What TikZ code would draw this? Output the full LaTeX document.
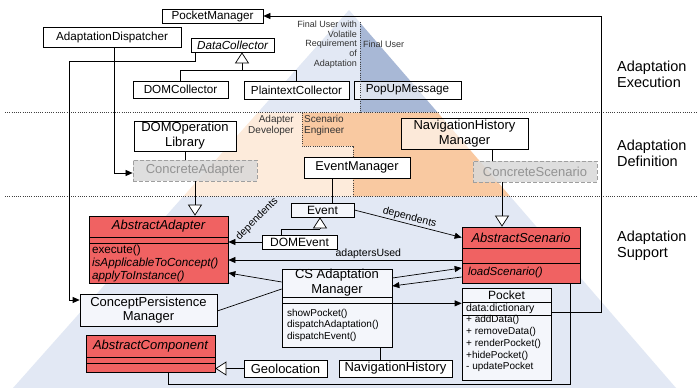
\documentclass[tikz,border=0pt]{standalone}
\usepackage{fontspec}
\setmainfont{Liberation Sans}
\usetikzlibrary{arrows.meta,shadows,calc}
\definecolor{lblue}{HTML}{E2E8F4}
\definecolor{dblue}{HTML}{A8B8D6}
\definecolor{peach}{HTML}{FDEBDB}
\definecolor{orng}{HTML}{F9C9A1}
\definecolor{redf}{HTML}{F06262}
\definecolor{boxb}{HTML}{F4F6FB}
\definecolor{cgray}{HTML}{D9D9D9}
\newcommand\fsz[2]{\fontsize{#1}{#2}\selectfont}
\tikzset{
  conn/.style={line width=0.7pt, draw=black},
  arrw/.style={conn, -{Triangle[length=7pt,width=6pt]}},
  inher/.style={conn, -{Triangle[length=11pt,width=14pt,fill=white]}},
  divd/.style={line width=0.7pt, draw=black!75, dash pattern=on 1pt off 1.2pt},
  bx/.style={draw, line width=0.7pt, inner sep=0pt, align=center, fill=white},
  shd/.style={drop shadow={shadow xshift=1.3pt,shadow yshift=-1.3pt,fill=black,opacity=0.3}},
  redbox/.style={bx, fill=redf},
  conc/.style={draw=gray!75, line width=0.8pt, dash pattern=on 4pt off 2pt, fill=cgray, fill opacity=0.85, text opacity=1, text=gray!85, inner sep=0pt, font=\fsz{13}{15}},
  lbl/.style={font=\fsz{10.5}{12}, inner sep=1pt},
  ptxt/.style={font=\fsz{9}{9.8}, text=black!80, inner sep=0pt},
  ptxtb/.style={font=\fsz{10}{11}, text=black!80, inner sep=0pt},
  reglbl/.style={font=\fsz{14.5}{16}, anchor=west, align=left, inner sep=0pt},
}
\begin{document}
\begin{tikzpicture}[x=1pt,y=-1pt]
\useasboundingbox (0,0) rectangle (697,388);
\fill[white] (0,0) rectangle (697,388);
% background pyramid
\fill[lblue] (349,10) -- (360,22.7) -- (360,112.5) -- (257.9,112.5) -- cycle;
\fill[dblue] (360,22.7) -- (437.7,112.5) -- (360,112.5) -- cycle;
\fill[peach] (257.9,112.5) -- (302,112.5) -- (302,146) -- (353,146) -- (353,196.5) -- (183.2,196.5) -- cycle;
\fill[orng] (302,112.5) -- (437.7,112.5) -- (510.3,196.5) -- (353,196.5) -- (353,146) -- (302,146) -- cycle;
\fill[lblue] (183.2,196.5) -- (510.3,196.5) -- (676,388) -- (13,388) -- cycle;
% dividers
\draw[divd] (5,112.5) -- (697,112.5);
\draw[divd] (5,196.5) -- (697,196.5);
\draw[divd] (302,112.5) -- (302,146) -- (353,146) -- (353,196.5);

% labels
\node[ptxt, anchor=east, align=right] (fuv) at (357,44.5) {Final User with\\Volatile\\Requirement\\of\\Adaptation};
\node[ptxt, anchor=west] (fu) at (363,44) {Final User};
\node[ptxtb, anchor=east, align=right] (adev) at (294,125.5) {Adapter\\Developer};
\node[ptxtb, anchor=west, align=left] (seng) at (304,125.5) {Scenario\\Engineer};
\node[reglbl] (rexe) at (617,74.5) {Adaptation\\Execution};
\node[reglbl] (rdef) at (617,153.5) {Adaptation\\Definition};
\node[reglbl] (rsup) at (617,246) {Adaptation\\Support};

% top nodes
\node[bx, shd, minimum width=101pt, minimum height=14pt, font=\fsz{11.7}{13}] (pm) at (212.5,16) {PocketManager};
\node[bx, shd, minimum width=138pt, minimum height=20pt, font=\fsz{11.7}{13}] (ad) at (112,37) {AdaptationDispatcher};
\node[bx, shd, minimum width=83pt, minimum height=14pt, font=\fsz{11.7}{13}\itshape] (dc) at (232.5,45) {DataCollector};
\node[bx, shd, minimum width=95pt, minimum height=17pt, font=\fsz{11.7}{13}] (domc) at (180.5,89.5) {DOMCollector};
\node[bx, shd, minimum width=105pt, minimum height=18pt, font=\fsz{11.7}{13}] (ptc) at (296.5,90) {PlaintextCollector};
\node[bx, fill opacity=0.6, text opacity=1, minimum width=107pt, minimum height=18pt, font=\fsz{11.7}{13}] (pum) at (407.5,90) {PopUpMessage};
\draw[divd] (360,22) -- (360,112.5);

% definition nodes
\node[bx, shd, minimum width=102pt, minimum height=30pt, font=\fsz{13}{15}] (dol) at (185,136) {DOMOperation\\Library};
\node[conc, minimum width=124pt, minimum height=21pt] (ca) at (195,170.5) {ConcreteAdapter};
\node[bx, shd, minimum width=106pt, minimum height=21pt, font=\fsz{12.8}{14}] (em) at (357,167.5) {EventManager};
\node[bx, fill opacity=0.6, text opacity=1, minimum width=127pt, minimum height=31pt, font=\fsz{13}{15}] (nhm) at (464.5,133.5) {NavigationHistory\\Manager};
\node[conc, minimum width=124pt, minimum height=21pt] (cs) at (535,171.5) {ConcreteScenario};

% support nodes
\node[bx, shd, fill=boxb, minimum width=63pt, minimum height=14pt, font=\fsz{12}{13}] (ev) at (322.5,210) {Event};
\node[bx, shd, minimum width=75pt, minimum height=14pt, font=\fsz{12}{13}] (dome) at (299.5,242) {DOMEvent};
\node[bx, shd, fill=boxb, minimum width=137pt, minimum height=32pt, font=\fsz{13}{14.5}] (cpm) at (148.5,310) {ConceptPersistence\\Manager};
\node[bx, shd, minimum width=83pt, minimum height=17pt, font=\fsz{13}{14}] (geo) at (285.5,368.5) {Geolocation};
\node[bx, shd, minimum width=113pt, minimum height=17pt, font=\fsz{13}{14}] (nh) at (395.5,368.5) {NavigationHistory};

% AbstractAdapter
\node[redbox, minimum width=139pt, minimum height=21pt, font=\fsz{13}{14}\itshape] (aan) at (158.5,226.5) {AbstractAdapter};
\node[redbox, minimum width=139pt, minimum height=6pt] (aae) at (158.5,240) {};
\node[redbox, minimum height=40pt, text width=133pt, inner xsep=3pt, align=left, font=\fsz{11.7}{13}] (aam) at (158.5,263) {execute()\\\textit{isApplicableToConcept()}\\\textit{applyToInstance()}};

% AbstractScenario
\node[redbox, minimum width=118pt, minimum height=21pt, font=\fsz{13}{14}\itshape] (asn) at (521,237.5) {AbstractScenario};
\node[redbox, minimum width=118pt, minimum height=15pt] (ase) at (521,255.5) {};
\node[redbox, minimum height=20pt, text width=106pt, inner xsep=6pt, align=left, font=\fsz{11.5}{13}\itshape] (asm) at (521,273) {loadScenario()};

% AbstractComponent
\node[redbox, minimum width=129pt, minimum height=22pt, font=\fsz{13}{14}\itshape] (acn) at (150.5,346) {AbstractComponent};
\node[redbox, minimum width=129pt, minimum height=6pt] (ace1) at (150.5,360) {};
\node[redbox, minimum width=129pt, minimum height=9pt] (ace2) at (150.5,367.5) {};

% CS Adaptation Manager
\node[bx, shd, fill=boxb, minimum width=110pt, minimum height=78pt] (csm) at (337,308) {};
\node[bx, fill=boxb, minimum width=110pt, minimum height=28pt, font=\fsz{13}{15}] (csmn) at (337,283) {CS Adaptation\\Manager};
\node[bx, fill=boxb, minimum width=110pt, minimum height=6pt] (csme) at (337,300) {};
\node[bx, fill=boxb, minimum height=44pt, text width=100pt, inner xsep=5pt, align=left, font=\fsz{10}{11.5}] (csmm) at (337,325) {showPocket()\\dispatchAdaptation()\\dispatchEvent()};

% Pocket
\node[bx, shd, fill=boxb, minimum width=89pt, minimum height=92pt] (pk) at (506.5,334) {};
\node[bx, fill=boxb, minimum width=89pt, minimum height=14pt, font=\fsz{12}{13}] (pkt) at (506.5,295) {Pocket};
\node[bx, fill=boxb, minimum height=13pt, text width=81pt, inner xsep=4pt, align=left, font=\fsz{10.5}{12}] (pka) at (506.5,308.5) {data:dictionary};
\node[anchor=north west, inner sep=0pt, align=left, font=\fsz{10}{11.75}] (pkm) at (466,315.5) {+ addData()\\+ removeData()\\+ renderPocket()\\+hidePocket()\\- updatePocket};

% helper coordinates
\coordinate (l1) at (195,61);
\coordinate (l2) at (69,61);
\coordinate (t1) at (242,70);
\coordinate (t2) at (320,229);
\coordinate (x332) at (332,0);
\coordinate (x492) at (492,0);
\coordinate (x502) at (502,0);
\coordinate (x380) at (380,0);
\coordinate (b1) at (570,384);
\coordinate (b2) at (168,384);
\coordinate (au1) at ([yshift=-4.5pt]ase.west);
\coordinate (cp1) at (csme.south east);

% connectors
\draw[arrw] (dc.south -| l1) -- (l1) -- (l2) |- ([yshift=10pt]cpm.west);
\draw[arrw] ([xshift=2pt]ad.south) |- ([yshift=-2.5pt]ca.west);
\draw[conn] (dol.south) -- (dol.south |- ca.north);
\draw[inher] (ca.south) -- (ca.south |- aan.north);
\draw[conn] (domc.north) |- (t1);
\draw[conn] (ptc.north) |- (t1);
\draw[inher] (t1) -- (t1 |- dc.south);
\draw[conn] (em.south -| x332) -- (ev.north -| x332);
\draw[conn] (nhm.south -| x492) -- (cs.north -| x492);
\draw[inher] (cs.south -| x502) -- (asn.north -| x502);
\draw[conn] ([xshift=-18.5pt]dome.north) |- (t2);
\draw[inher] (t2) -- (t2 |- ev.south);
\draw[arrw] (dome.west) -- (dome.west -| aan.east);
\node[lbl, rotate=45] (dep1) at (257,219) {dependents};
\draw[arrw] (ev.east) -- (asn.west) node[lbl, midway, above=0pt, sloped] (dep2) {dependents};
\draw[arrw] (au1) -- (au1 -| aam.east) node[lbl, pos=0.4, above=0pt] (au) {adaptersUsed};
\draw[arrw] ([yshift=1pt]csmn.west) -- ([yshift=-10pt]aam.east);
\draw[conn] ([yshift=-6pt]csmn.west) -- ([yshift=-1pt]cpm.east);
\draw[arrw] ([yshift=5pt]csmn.east) -- ([yshift=5pt]asm.west);
\draw[arrw] ([yshift=-4pt]asm.west) -- ([yshift=-3pt]csmn.east);
\draw[arrw] (cp1) -- (cp1 -| pkt.west);
\draw[conn] (nh.north -| x380) -- (csmm.south -| x380);
\draw[inher] (geo.west) -- (geo.west -| ace2.east);
\draw[arrw] ([yshift=-3.5pt]pka.east) -- ++(50,0) |- (pm.east);
\draw[conn] (asm.south -| b1) -- (b1) -- (b2) -- (ace2.south -| b2);
\end{tikzpicture}
\end{document}
